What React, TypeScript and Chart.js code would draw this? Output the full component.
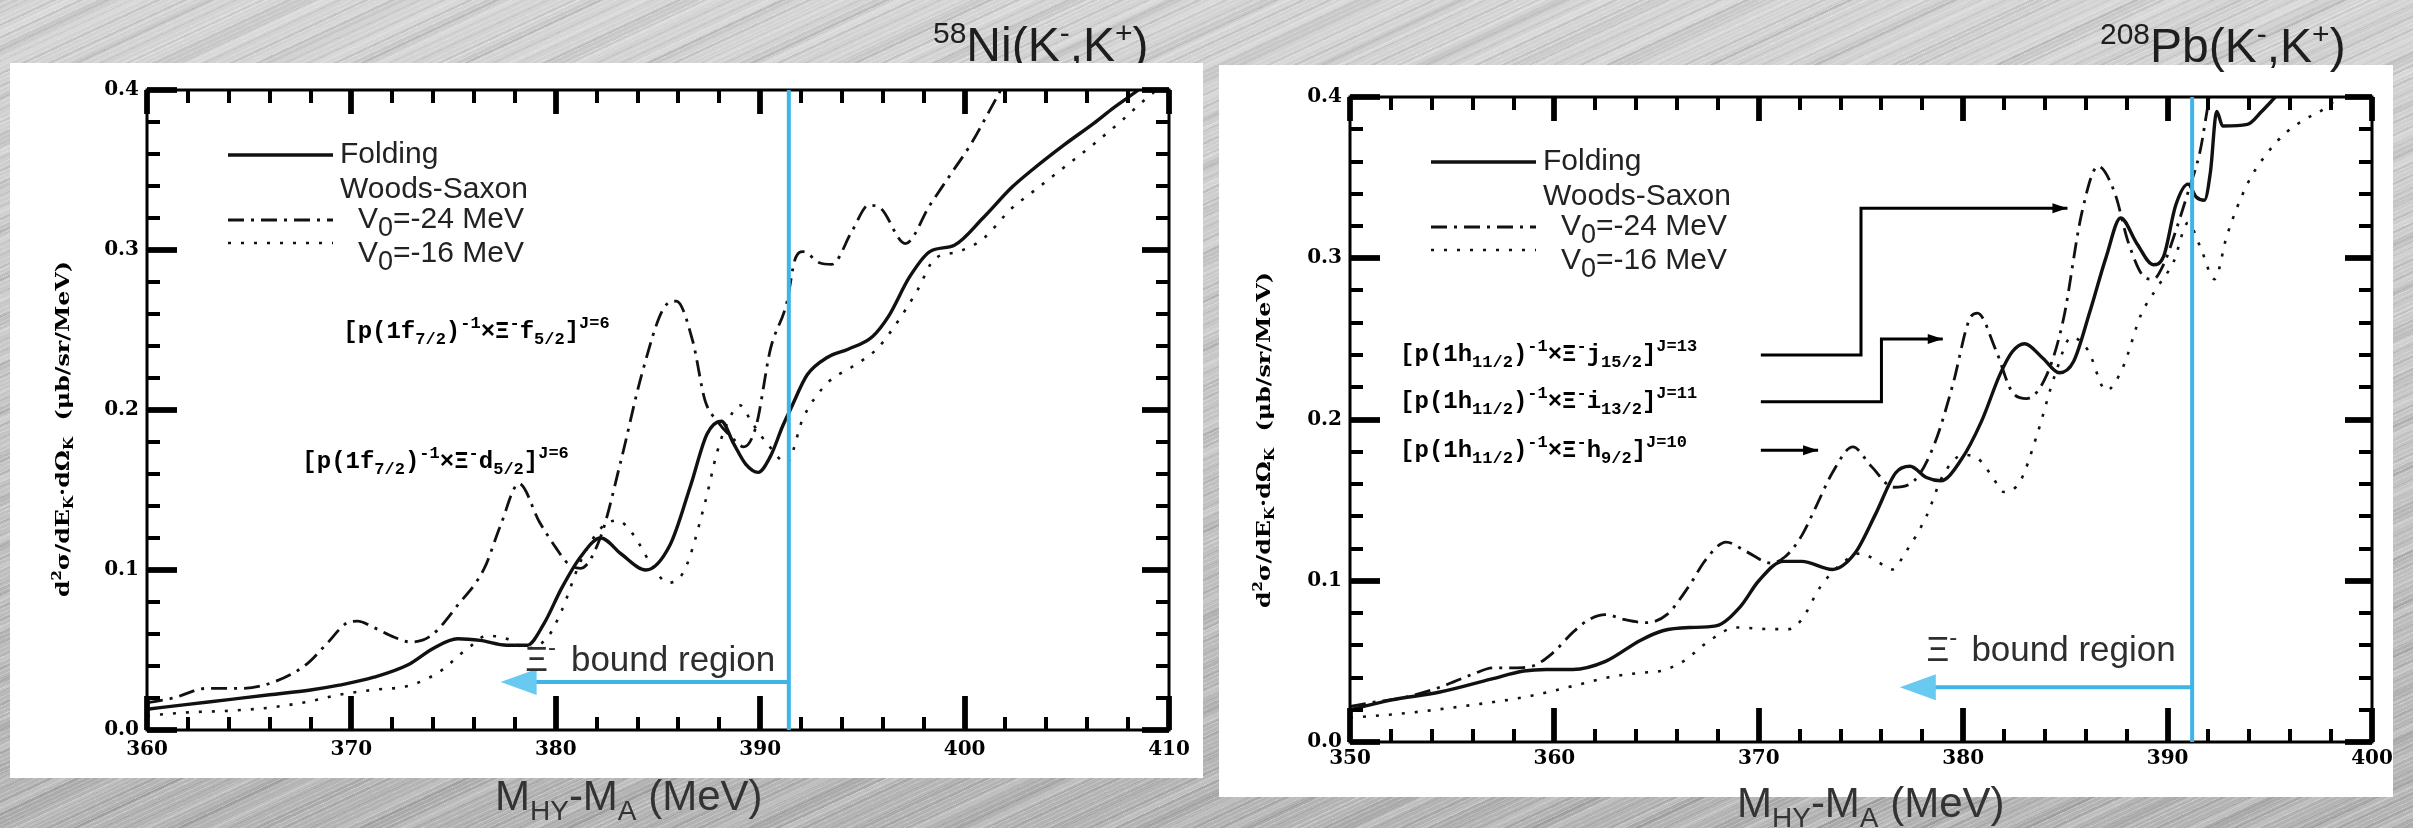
import React, { useEffect, useRef } from 'react';
import { Chart, registerables } from 'chart.js';

Chart.register(...registerables);

// ---- shared y axis ----
const yTickValues = [0, 0.1, 0.2, 0.3, 0.4];
const yTickLabels = ['0.0', '0.1', '0.2', '0.3', '0.4'];

// ---- 58Ni(K-,K+) : d2σ/dE dΩ vs M_HY - M_A ----
const niTickValues = [360, 370, 380, 390, 400, 410];

const niFoldX = [360, 362, 364, 366, 368, 369.4, 371.1, 372.8, 374.0, 375.2, 376.3, 377.6, 378.6, 379.4, 380.3, 381.2, 382.2, 383.2, 384.4, 385.6, 386.6, 387.4, 388.1, 388.7, 389.3, 389.9, 390.5, 391.1, 391.5, 392.3, 393.3, 394.3, 395.5, 396.3, 397.3, 398.3, 399.5, 400.9, 402.3, 403.3, 404.9, 406.3, 407.3, 408.5, 409.5];
const niFoldY = [0.013, 0.016, 0.019, 0.022, 0.025, 0.028, 0.033, 0.041, 0.051, 0.057, 0.056, 0.053, 0.053, 0.066, 0.089, 0.108, 0.120, 0.110, 0.100, 0.116, 0.153, 0.185, 0.193, 0.179, 0.166, 0.161, 0.171, 0.190, 0.201, 0.222, 0.233, 0.238, 0.246, 0.259, 0.283, 0.299, 0.303, 0.320, 0.339, 0.350, 0.366, 0.379, 0.389, 0.400, 0.410];

const niWs24X = [360, 361.3, 362.9, 364.6, 366.2, 367.8, 368.8, 369.8, 370.3, 371.1, 372.1, 372.9, 373.9, 375.2, 376.5, 377.3, 378.2, 379.2, 380.0, 380.6, 381.2, 382.2, 383.2, 384.2, 385.3, 385.9, 386.7, 387.3, 387.9, 388.6, 389.2, 389.8, 390.5, 391.3, 391.7, 392.1, 392.9, 393.5, 394.5, 395.3, 395.9, 397.1, 398.3, 399.3, 400.3, 401.3, 402.2];
const niWs24Y = [0.017, 0.020, 0.026, 0.026, 0.030, 0.041, 0.054, 0.067, 0.068, 0.064, 0.058, 0.055, 0.059, 0.078, 0.101, 0.128, 0.154, 0.130, 0.114, 0.104, 0.101, 0.121, 0.169, 0.222, 0.264, 0.268, 0.243, 0.206, 0.193, 0.183, 0.177, 0.190, 0.238, 0.267, 0.294, 0.299, 0.292, 0.291, 0.312, 0.328, 0.326, 0.304, 0.328, 0.347, 0.366, 0.389, 0.410];

const niWs16X = [360, 362, 364, 366, 368, 369.4, 371, 372.9, 374.5, 375.2, 376.0, 376.6, 377.6, 378.6, 379.6, 380.3, 381.2, 382.2, 383.0, 383.8, 384.6, 385.5, 386.3, 387.3, 387.9, 388.5, 389.0, 389.6, 390.4, 391.3, 392.1, 393.3, 394.5, 395.7, 396.5, 397.7, 398.5, 399.7, 400.9, 402.3, 403.3, 404.9, 406.3, 407.7, 409.1, 410];
const niWs16Y = [0.009, 0.011, 0.012, 0.014, 0.018, 0.022, 0.025, 0.028, 0.038, 0.046, 0.054, 0.059, 0.057, 0.051, 0.058, 0.075, 0.105, 0.126, 0.131, 0.122, 0.105, 0.092, 0.100, 0.142, 0.174, 0.195, 0.203, 0.192, 0.178, 0.167, 0.195, 0.217, 0.227, 0.238, 0.251, 0.275, 0.294, 0.299, 0.307, 0.326, 0.336, 0.352, 0.366, 0.381, 0.397, 0.405];

// ---- 208Pb(K-,K+) ----
const pbTickValues = [350, 360, 370, 380, 390, 400];

const pbFoldX = [350, 352, 354.4, 356.9, 358.5, 359.6, 360.9, 362.5, 364.2, 365.3, 366.6, 367.9, 369.1, 370.0, 371.2, 372.1, 373.6, 374.7, 375.7, 376.7, 377.4, 378.2, 378.9, 379.9, 380.9, 381.8, 382.4, 383.0, 383.9, 384.7, 385.4, 386.2, 387.0, 387.7, 388.5, 389.3, 389.8, 390.4, 391.0, 391.4, 391.8, 392.1, 392.4, 392.7, 393.9, 394.6, 395.2, 396.0];
const pbFoldY = [0.020, 0.026, 0.031, 0.039, 0.044, 0.045, 0.045, 0.050, 0.063, 0.069, 0.071, 0.072, 0.084, 0.100, 0.112, 0.112, 0.107, 0.117, 0.141, 0.167, 0.171, 0.164, 0.162, 0.175, 0.199, 0.228, 0.242, 0.247, 0.238, 0.229, 0.236, 0.267, 0.301, 0.325, 0.309, 0.296, 0.301, 0.333, 0.346, 0.338, 0.336, 0.354, 0.391, 0.382, 0.383, 0.391, 0.399, 0.410];

const pbWs24X = [350, 351.1, 352.8, 354.4, 356.0, 357.0, 358.0, 358.9, 359.9, 360.9, 361.7, 362.5, 363.4, 364.5, 365.5, 366.6, 367.4, 368.4, 369.4, 370.6, 371.3, 372.1, 372.8, 373.6, 374.6, 375.5, 376.6, 377.6, 378.6, 379.5, 380.3, 380.7, 381.6, 382.4, 383.1, 384.1, 384.9, 385.8, 386.6, 387.4, 388.1, 388.9, 389.3, 389.8, 390.4, 391.0, 391.6, 392.0, 392.5];
const pbWs24Y = [0.022, 0.0245, 0.028, 0.034, 0.042, 0.046, 0.046, 0.047, 0.055, 0.068, 0.076, 0.079, 0.076, 0.074, 0.079, 0.097, 0.113, 0.124, 0.118, 0.111, 0.115, 0.128, 0.146, 0.167, 0.183, 0.171, 0.158, 0.162, 0.185, 0.222, 0.262, 0.266, 0.243, 0.217, 0.213, 0.228, 0.262, 0.328, 0.357, 0.341, 0.309, 0.288, 0.287, 0.296, 0.317, 0.341, 0.367, 0.396, 0.420];

const pbWs16X = [350, 352.8, 356.0, 358.6, 361.0, 362.6, 364.3, 365.2, 366.3, 367.6, 368.9, 370.6, 371.5, 372.1, 373.0, 374.0, 375.0, 375.8, 376.5, 377.2, 378.2, 379.0, 380.0, 380.7, 381.4, 382.0, 382.8, 383.6, 384.5, 385.3, 386.1, 387.0, 387.8, 388.7, 389.5, 390.3, 391.0, 391.6, 392.3, 392.9, 393.9, 394.8, 395.8, 396.7, 397.7, 398.3, 399.0];
const pbWs16Y = [0.015, 0.018, 0.023, 0.028, 0.035, 0.040, 0.043, 0.044, 0.050, 0.063, 0.071, 0.070, 0.070, 0.076, 0.096, 0.110, 0.117, 0.112, 0.107, 0.118, 0.140, 0.165, 0.178, 0.176, 0.165, 0.155, 0.162, 0.190, 0.228, 0.251, 0.243, 0.218, 0.232, 0.265, 0.282, 0.298, 0.322, 0.307, 0.287, 0.314, 0.346, 0.364, 0.378, 0.386, 0.393, 0.399, 0.405];

// upper end of the Ξ- bound region (MeV)
const niBoundEdge = 391.4;
const pbBoundEdge = 391.2;

const seriesNames = ['Folding', 'V0=-24 MeV', 'V0=-16 MeV'];

// ---- styling ----
const INK = '#111';
const BLUE = '#3fb4e6';
const BLUE_HEAD = '#68c9f1';
const SANS = '"Liberation Sans", Arial, sans-serif';
const MONO = '"Liberation Mono", "DejaVu Sans Mono", monospace';
const SERIF = '"DejaVu Serif", serif';

const curveStyles = [
  { borderWidth: 3.4, borderDash: [] as number[] },
  { borderWidth: 2.8, borderDash: [16, 7, 3, 7] },
  { borderWidth: 2.6, borderDash: [3, 10] },
];

type Seg = { t: string; k?: 'sub' | 'sup' };
type SegFont = { family: string; weight: string; size: number; small: number; subDy: number; supDy: number };

function segsWidth(ctx: CanvasRenderingContext2D, segs: Seg[], f: SegFont) {
  let w = 0;
  for (const s of segs) {
    ctx.font = `${f.weight} ${s.k ? f.small : f.size}px ${f.family}`;
    w += ctx.measureText(s.t).width;
  }
  return w;
}

function drawSegs(ctx: CanvasRenderingContext2D, segs: Seg[], x: number, y: number, f: SegFont) {
  let cx = x;
  for (const s of segs) {
    ctx.font = `${f.weight} ${s.k ? f.small : f.size}px ${f.family}`;
    const dy = s.k === 'sub' ? f.subDy : s.k === 'sup' ? -f.supDy : 0;
    ctx.fillText(s.t, cx, y + dy);
    cx += ctx.measureText(s.t).width;
  }
  return cx;
}

const yTitleSegs: Seg[] = [
  { t: 'd' }, { t: '2', k: 'sup' }, { t: 'σ/dE' }, { t: 'K', k: 'sub' }, { t: '·dΩ' }, { t: 'K', k: 'sub' }, { t: '  (μb/sr/MeV)' },
];
const xTitleSegs: Seg[] = [{ t: 'M' }, { t: 'HY', k: 'sub' }, { t: '-M' }, { t: 'A', k: 'sub' }, { t: ' (MeV)' }];

const stateLabel = (hole: string, holeJ: string, orbit: string, orbitJ: string, J: string): Seg[] => [
  { t: '[p(1' + hole }, { t: holeJ, k: 'sub' }, { t: ')' }, { t: '-1', k: 'sup' }, { t: '×Ξ' }, { t: '-', k: 'sup' },
  { t: orbit }, { t: orbitJ, k: 'sub' }, { t: ']' }, { t: 'J=' + J, k: 'sup' },
];

interface PanelSpec {
  left: number;
  width: number;
  box: [number, number, number, number];
  xMin: number;
  xMax: number;
  xTicks: number[];
  yAxisW: number;
  xAxisH: number;
  top: number;
  right: number;
  tickPad: number;
  xs: number[][];
  ys: number[][];
  boundEdge: number;
  arrowY: number;
  arrowTip: number;
  xiX: number;
  boundX: number;
  boundY: number;
  title: Seg[];
  titleX: number;
  titleY: number;
  titleUnderBox: boolean;
  xTitleX: number;
  xTitleY: number;
  yTitleX: number;
  yTitleY: number;
  labels: { segs: Seg[]; x: number; y: number }[];
  leaders: number[][][];
}

const niSpec: PanelSpec = {
  left: 0,
  width: 1210,
  box: [10, 63, 1193, 715],
  xMin: 360,
  xMax: 410,
  xTicks: niTickValues,
  yAxisW: 147,
  xAxisH: 98,
  top: 90,
  right: 41,
  tickPad: 8,
  xs: [niFoldX, niWs24X, niWs16X],
  ys: [niFoldY, niWs24Y, niWs16Y],
  boundEdge: niBoundEdge,
  arrowY: 0.030,
  arrowTip: 377.3,
  xiX: 378.5,
  boundX: 380.74,
  boundY: 0.037,
  title: [{ t: '58', k: 'sup' }, { t: 'Ni(K' }, { t: '-', k: 'sup' }, { t: ',K' }, { t: '+', k: 'sup' }, { t: ')' }],
  titleX: 933,
  titleY: 61,
  titleUnderBox: true,
  xTitleX: 495,
  xTitleY: 810,
  yTitleX: 62,
  yTitleY: 429,
  labels: [
    { segs: stateLabel('f', '7/2', 'f', '5/2', '6'), x: 369.6, y: 0.245 },
    { segs: stateLabel('f', '7/2', 'd', '5/2', '6'), x: 367.6, y: 0.164 },
  ],
  leaders: [],
};

const pbSpec: PanelSpec = {
  left: 1210,
  width: 1203,
  box: [9, 65, 1174, 732],
  xMin: 350,
  xMax: 400,
  xTicks: pbTickValues,
  yAxisW: 140,
  xAxisH: 86,
  top: 97,
  right: 41,
  tickPad: 5,
  xs: [pbFoldX, pbWs24X, pbWs16X],
  ys: [pbFoldY, pbWs24Y, pbWs16Y],
  boundEdge: pbBoundEdge,
  arrowY: 0.034,
  arrowTip: 376.9,
  xiX: 378.2,
  boundX: 380.4,
  boundY: 0.050,
  title: [{ t: '208', k: 'sup' }, { t: 'Pb(K' }, { t: '-', k: 'sup' }, { t: ',K' }, { t: '+', k: 'sup' }, { t: ')' }],
  titleX: 890,
  titleY: 62,
  titleUnderBox: false,
  xTitleX: 527,
  xTitleY: 817,
  yTitleX: 53,
  yTitleY: 440,
  labels: [
    { segs: stateLabel('h', '11/2', 'j', '15/2', '13'), x: 352.45, y: 0.236 },
    { segs: stateLabel('h', '11/2', 'i', '13/2', '11'), x: 352.45, y: 0.207 },
    { segs: stateLabel('h', '11/2', 'h', '9/2', '10'), x: 352.45, y: 0.177 },
  ],
  leaders: [
    [[370.1, 0.240], [375.0, 0.240], [375.0, 0.331], [385.1, 0.331]],
    [[370.1, 0.211], [376.0, 0.211], [376.0, 0.250], [379.0, 0.250]],
    [[370.1, 0.181], [372.9, 0.181]],
  ],
};

const titleFont: SegFont = { family: SANS, weight: '400', size: 48, small: 30, subDy: 0, supDy: 18 };
const xTitleFont: SegFont = { family: SANS, weight: '400', size: 42, small: 28, subDy: 10, supDy: 0 };
const yTitleFont: SegFont = { family: SERIF, weight: 'bold', size: 19, small: 12, subDy: 4, supDy: 8 };
const labelFont: SegFont = { family: MONO, weight: 'bold', size: 24, small: 17, subDy: 6, supDy: 10 };

// inward axis ticks: every 2 MeV / 0.02, longer at the labelled values
function drawTicks(chart: any, spec: PanelSpec) {
  const ctx: CanvasRenderingContext2D = chart.ctx;
  const a = chart.chartArea;
  const xs = chart.scales.x;
  const ys = chart.scales.y;
  if (!a || !xs || !ys) return;
  ctx.save();
  ctx.globalAlpha = 1;
  ctx.globalCompositeOperation = 'source-over';
  ctx.fillStyle = '#000000';
  for (let i = 0; i <= 25; i++) {
    const v = spec.xMin + i * 2;
    const major = i % 5 === 0;
    const X = Math.round(xs.getPixelForValue(v));
    const w = major ? 5 : 4;
    const lb = major ? 34 : 13;
    const lt = major ? 24 : 13;
    ctx.fillRect(X - w / 2, a.bottom - lb, w, lb);
    ctx.fillRect(X - w / 2, a.top, w, lt);
  }
  for (let i = 0; i <= 20; i++) {
    const major = i % 5 === 0;
    const Y = Math.round(ys.getPixelForValue(i * 0.02));
    const h = major ? 5 : 4;
    const ll = major ? 30 : 13;
    const lr = major ? 27 : 13;
    ctx.fillRect(a.left, Y - h / 2, ll, h);
    ctx.fillRect(a.right - lr, Y - h / 2, lr, h);
  }
  ctx.restore();
}

function drawFrame(chart: any) {
  const ctx: CanvasRenderingContext2D = chart.ctx;
  const a = chart.chartArea;
  ctx.save();
  ctx.setLineDash([]);
  ctx.lineWidth = 3;
  ctx.strokeStyle = '#000';
  ctx.strokeRect(a.left, a.top, a.right - a.left, a.bottom - a.top);
  ctx.restore();
}

function buildConfig(spec: PanelSpec): any {
  const tickFont = { family: 'DejaVu Serif', weight: 'bold' as const, size: 20 };

  function drawTitle(ctx: CanvasRenderingContext2D) {
    ctx.fillStyle = '#1e1e1e';
    ctx.textAlign = 'left';
    ctx.textBaseline = 'alphabetic';
    drawSegs(ctx, spec.title, spec.titleX, spec.titleY, titleFont);
  }

  const decor = {
    id: 'panelDecor',
    beforeDraw(chart: any) {
      const ctx: CanvasRenderingContext2D = chart.ctx;
      ctx.save();
      if (spec.titleUnderBox) drawTitle(ctx);
      ctx.fillStyle = '#fff';
      ctx.fillRect(spec.box[0], spec.box[1], spec.box[2], spec.box[3]);
      if (!spec.titleUnderBox) drawTitle(ctx);
      ctx.restore();
      drawTicks(chart, spec);
    },
    afterDatasetsDraw(chart: any) {
      drawTicks(chart, spec);
      drawFrame(chart);
    },
    afterDraw(chart: any) {
      const ctx: CanvasRenderingContext2D = chart.ctx;
      const a = chart.chartArea;
      const xs = chart.scales.x;
      const ys = chart.scales.y;
      const px = (v: number) => xs.getPixelForValue(v);
      const py = (v: number) => ys.getPixelForValue(v);
      ctx.save();

      // legend
      const lx0 = a.left + 81;
      const lx1 = a.left + 186;
      const rows = [a.top + 65, a.top + 130, a.top + 153];
      curveStyles.forEach((st, i) => {
        ctx.beginPath();
        ctx.strokeStyle = INK;
        ctx.lineWidth = st.borderWidth;
        ctx.setLineDash(st.borderDash);
        ctx.moveTo(lx0, rows[i]);
        ctx.lineTo(lx1, rows[i]);
        ctx.stroke();
      });
      ctx.setLineDash([]);
      ctx.fillStyle = '#222';
      ctx.textBaseline = 'alphabetic';
      ctx.textAlign = 'left';
      ctx.font = `30px ${SANS}`;
      ctx.fillText(seriesNames[0], a.left + 193, a.top + 73);
      ctx.fillText('Woods-Saxon', a.left + 193, a.top + 108);
      const vFont: SegFont = { family: SANS, weight: '400', size: 30, small: 27, subDy: 8, supDy: 0 };
      drawSegs(ctx, [{ t: 'V' }, { t: '0', k: 'sub' }, { t: '=-24 MeV' }], a.left + 211, a.top + 138, vFont);
      drawSegs(ctx, [{ t: 'V' }, { t: '0', k: 'sub' }, { t: '=-16 MeV' }], a.left + 211, a.top + 172, vFont);

      // configuration labels and leader arrows
      ctx.fillStyle = '#000';
      spec.labels.forEach((lb) => drawSegs(ctx, lb.segs, px(lb.x), py(lb.y), labelFont));
      ctx.strokeStyle = '#000';
      ctx.lineWidth = 3;
      spec.leaders.forEach((path) => {
        ctx.beginPath();
        path.forEach((p, i) => (i === 0 ? ctx.moveTo(px(p[0]), py(p[1])) : ctx.lineTo(px(p[0]), py(p[1]))));
        const end = path[path.length - 1];
        const ex = px(end[0]);
        const ey = py(end[1]);
        ctx.lineTo(ex - 12, ey);
        ctx.stroke();
        ctx.beginPath();
        ctx.moveTo(ex, ey);
        ctx.lineTo(ex - 15, ey - 5);
        ctx.lineTo(ex - 15, ey + 5);
        ctx.closePath();
        ctx.fill();
      });

      // Ξ- bound region marker
      const bx = px(spec.boundEdge);
      ctx.strokeStyle = BLUE;
      ctx.lineWidth = 4;
      ctx.beginPath();
      ctx.moveTo(bx, a.top);
      ctx.lineTo(bx, a.bottom);
      ctx.stroke();
      const ay = py(spec.arrowY);
      const tip = px(spec.arrowTip);
      ctx.beginPath();
      ctx.moveTo(bx, ay);
      ctx.lineTo(tip + 30, ay);
      ctx.stroke();
      ctx.fillStyle = BLUE_HEAD;
      ctx.beginPath();
      ctx.moveTo(tip, ay);
      ctx.lineTo(tip + 36, ay - 13);
      ctx.lineTo(tip + 36, ay + 13);
      ctx.closePath();
      ctx.fill();

      ctx.fillStyle = '#2e2e2e';
      const by = py(spec.boundY);
      drawSegs(ctx, [{ t: 'Ξ' }, { t: '-', k: 'sup' }], px(spec.xiX), by, { family: SANS, weight: '400', size: 35, small: 24, subDy: 0, supDy: 16 });
      ctx.font = `35px ${SANS}`;
      ctx.fillText('bound region', px(spec.boundX), by);

      // axis titles
      ctx.fillStyle = '#333';
      drawSegs(ctx, xTitleSegs, spec.xTitleX, spec.xTitleY, xTitleFont);

      ctx.fillStyle = '#000';
      ctx.translate(spec.yTitleX, spec.yTitleY);
      ctx.rotate(-Math.PI / 2);
      ctx.scale(1.25, 1);
      const tw = segsWidth(ctx, yTitleSegs, yTitleFont);
      drawSegs(ctx, yTitleSegs, -tw / 2, 7, yTitleFont);
      ctx.restore();

      drawTicks(chart, spec);
    },
  };

  return {
    type: 'line',
    data: {
      datasets: spec.xs.map((xArr, i) => ({
        label: seriesNames[i],
        data: xArr.map((x, j) => ({ x, y: spec.ys[i][j] })),
        borderColor: INK,
        borderWidth: curveStyles[i].borderWidth,
        borderDash: curveStyles[i].borderDash,
        pointRadius: 0,
        fill: false,
        cubicInterpolationMode: 'monotone',
      })),
    },
    options: {
      responsive: false,
      animation: false,
      devicePixelRatio: 1,
      layout: { padding: { left: 0, top: spec.top, right: spec.right, bottom: 0 } },
      plugins: { legend: { display: false }, tooltip: { enabled: false }, title: { display: false } },
      scales: {
        x: {
          type: 'linear',
          min: spec.xMin,
          max: spec.xMax,
          afterFit: (s: any) => {
            s.height = spec.xAxisH;
          },
          afterBuildTicks: (s: any) => {
            s.ticks = spec.xTicks.map((v) => ({ value: v }));
          },
          grid: { display: false, drawTicks: false },
          border: { display: false },
          ticks: {
            color: '#000',
            font: tickFont,
            padding: spec.tickPad,
            maxRotation: 0,
            autoSkip: false,
            callback: (v: number) => String(v),
          },
        },
        y: {
          type: 'linear',
          min: 0,
          max: 0.4,
          afterFit: (s: any) => {
            s.width = spec.yAxisW;
          },
          afterBuildTicks: (s: any) => {
            s.ticks = yTickValues.map((v) => ({ value: v }));
          },
          grid: { display: false, drawTicks: false },
          border: { display: false },
          ticks: {
            color: '#000',
            font: tickFont,
            padding: 8,
            autoSkip: false,
            callback: (_v: number, i: number) => yTickLabels[i],
          },
        },
      },
    },
    plugins: [decor],
  };
}

function Panel({ spec }: { spec: PanelSpec }) {
  const ref = useRef<HTMLCanvasElement>(null);
  useEffect(() => {
    const chart = new Chart(ref.current as HTMLCanvasElement, buildConfig(spec));
    return () => chart.destroy();
  }, [spec]);
  return (
    <canvas
      ref={ref}
      width={spec.width}
      height={828}
      style={{ position: 'absolute', left: spec.left, top: 0, width: spec.width, height: 828 }}
    />
  );
}

const brushedMetal = [
  'repeating-linear-gradient(155deg, rgba(255,255,255,0.22) 0px, rgba(255,255,255,0.22) 1px, rgba(255,255,255,0) 1px, rgba(255,255,255,0) 4px)',
  'repeating-linear-gradient(155deg, rgba(0,0,0,0.07) 0px, rgba(0,0,0,0.07) 2px, rgba(0,0,0,0) 2px, rgba(0,0,0,0) 11px)',
  'repeating-linear-gradient(155deg, rgba(255,255,255,0.14) 0px, rgba(255,255,255,0.14) 6px, rgba(255,255,255,0) 6px, rgba(255,255,255,0) 27px)',
  'repeating-linear-gradient(155deg, rgba(0,0,0,0.05) 0px, rgba(0,0,0,0.05) 9px, rgba(0,0,0,0) 9px, rgba(0,0,0,0) 41px)',
  'linear-gradient(180deg, #d4d4d4 0%, #c4c4c4 55%, #b2b2b2 100%)',
].join(', ');

export default function App() {
  return (
    <div
      style={{
        position: 'absolute',
        left: 0,
        top: 0,
        width: 2413,
        height: 828,
        overflow: 'hidden',
        background: brushedMetal,
      }}
    >
      <Panel spec={niSpec} />
      <Panel spec={pbSpec} />
    </div>
  );
}
